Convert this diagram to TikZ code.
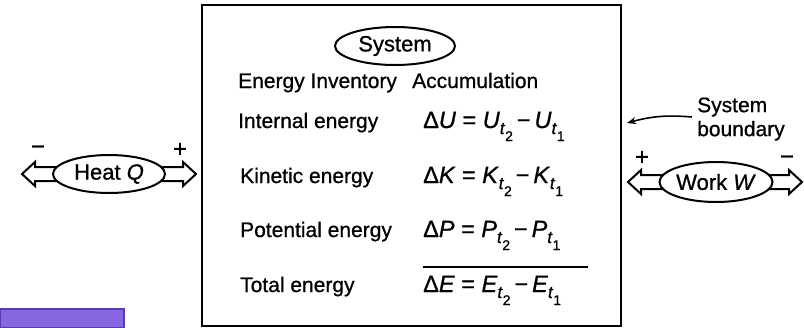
\documentclass[tikz,border=0pt]{standalone}
\usepackage{fontspec}
\setmainfont{Liberation Sans}
\newfontfamily\heavy{Liberation Sans}[FakeBold=0.8]
\usetikzlibrary{shapes.geometric, arrows.meta, calc}
\definecolor{tabpurple}{RGB}{136,102,226}
\definecolor{tabedge}{RGB}{84,62,172}

% quantity at time t_i
\newcommand\dt[2]{\textit{#1}\raisebox{-6pt}{\fontsize{17}{17}\selectfont\textit{t}\raisebox{-7pt}{\fontsize{14}{14}\selectfont #2}}}
% hollow broad arrow, shaft from #1 to the tip at #2
\newcommand\fatarrow[2]{%
  \draw[fatline] let \p1=(#1), \p2=(#2), \n1={sign(\x2-\x1)} in
    (\x1,\y2+7pt) -- ({\x2-\n1*13pt},\y2+7pt) -- ({\x2-\n1*13pt},\y2+12pt)
    -- (\x2,\y2) -- ({\x2-\n1*13pt},\y2-12pt) -- ({\x2-\n1*13pt},\y2-7pt)
    -- (\x1,\y2-7pt);}

\pgfdeclarelayer{background}
\pgfsetlayers{background,main}

\begin{document}
\begin{tikzpicture}[
    x=1pt, y=-1pt,
    txt/.style={inner sep=0pt, anchor=base west, font=\heavy\fontsize{21}{24}\selectfont},
    eqn/.style={txt, font=\heavy\fontsize{23.5}{25}\selectfont},
    oval/.style={ellipse, draw, line width=2pt, fill=white, inner sep=0pt, font=\heavy\fontsize{22}{25}\selectfont},
    fatline/.style={line width=2pt, line join=miter},
    sgn/.style={inner sep=0pt, font=\heavy\fontsize{24}{25}\selectfont},
    arrow/.style={-{Stealth[length=9pt,width=7pt]}, line width=1.6pt}
]
    \useasboundingbox (0,0) rectangle (804,327);

    % system box
    \draw[line width=2.5pt] (202,5) rectangle (621,326);
    \node[oval, minimum width=120pt, minimum height=38pt] (sys) at (395,46) {System};

    \node[txt] (inv) at (238,88) {Energy Inventory};
    \node[txt] (acc) at (412,88) {Accumulation};

    \node[txt] (lint) at (238,128) {Internal energy};
    \node[txt] (lkin) at (240,183) {Kinetic energy};
    \node[txt] (lpot) at (240,237) {Potential energy};
    \node[txt] (ltot) at (240,292) {Total energy};

    \node[eqn] (eint) at (423,128) {Δ\textit{U} = \dt{U}{2}\,−\,\dt{U}{1}};
    \node[eqn] (ekin) at (423,183) {Δ\textit{K} = \dt{K}{2}\,−\,\dt{K}{1}};
    \node[eqn] (epot) at (423,237) {Δ\textit{P} = \dt{P}{2}\,−\,\dt{P}{1}};
    \node[eqn] (etot) at (423,292) {Δ\textit{E} = \dt{E}{2}\,−\,\dt{E}{1}};
    \draw[line width=2pt] (423,267) -- (588,267);

    % heat
    \node[oval, minimum width=112pt, minimum height=38pt] (heat) at (109,174) {Heat \textit{Q}};
    \coordinate (heatL) at (22,174);
    \coordinate (heatR) at (196,174);
    \begin{pgfonlayer}{background}
        \fatarrow{heat.center}{heatL}
        \fatarrow{heat.center}{heatR}
    \end{pgfonlayer}
    \node[sgn] (qminus) at (38,150) {−};
    \node[sgn] (qplus) at (180,150) {+};

    % work
    \node[oval, minimum width=113pt, minimum height=40pt] (work) at (716,182) {Work \textit{W}};
    \coordinate (workL) at (628,182);
    \coordinate (workR) at (802,182);
    \begin{pgfonlayer}{background}
        \fatarrow{work.center}{workL}
        \fatarrow{work.center}{workR}
    \end{pgfonlayer}
    \node[sgn] (wplus) at (642,158) {+};
    \node[sgn] (wminus) at (787,160) {−};

    % boundary label
    \node[txt, anchor=west, align=left] (bnd) at (697,119) {System\\boundary};
    \coordinate (bndtip) at (627,123);
    \draw[arrow] ([xshift=-5pt,yshift=2pt]bnd.west) to[bend right=10] (bndtip);

    \draw[tabedge, fill=tabpurple, line width=1.5pt] (0,309) rectangle (124,328);
\end{tikzpicture}
\end{document}
